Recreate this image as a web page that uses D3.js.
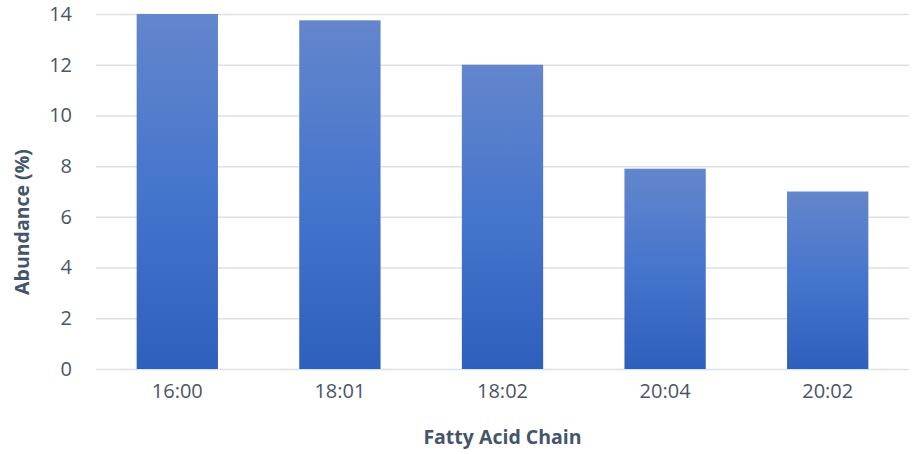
<!DOCTYPE html>
<html>
<head>
<meta charset="utf-8">
<script src="https://cdn.jsdelivr.net/npm/d3@7/dist/d3.min.js"></script>
<style>
  html, body { margin: 0; padding: 0; background: #fff; }
  svg { display: block; }
</style>
</head>
<body>
<svg id="chart" width="912" height="454"></svg>
<script>
// Fatty acid chain abundance
const categories = ["16:00", "18:01", "18:02", "20:04", "20:02"];
const abundance = [14, 13.75, 12, 7.9, 7];
const yTicks = [0, 2, 4, 6, 8, 10, 12, 14];

const W = 912, H = 454;
const margin = { top: 14, right: 3, bottom: 85, left: 96 };
const svg = d3.select("#chart");
const font = "'Open Sans', sans-serif";
const textColor = "#4a5568";

const x = d3.scaleBand()
  .domain(categories)
  .range([margin.left, W - margin.right])
  .paddingInner(0.5)
  .paddingOuter(0.25);

const y = d3.scaleLinear()
  .domain([0, 14])
  .range([H - margin.bottom, margin.top]);

// vertical gradient applied to each bar
const defs = svg.append("defs");
const grad = defs.append("linearGradient")
  .attr("id", "barFill")
  .attr("x1", 0).attr("y1", 0).attr("x2", 0).attr("y2", 1);
grad.append("stop").attr("offset", "0%").attr("stop-color", "#6386cc");
grad.append("stop").attr("offset", "50%").attr("stop-color", "#4675cd");
grad.append("stop").attr("offset", "100%").attr("stop-color", "#2e5fbc");

// gridlines
const yAxis = d3.axisLeft(y)
  .tickValues(yTicks)
  .tickSize(-(W - margin.right - margin.left))
  .tickPadding(24)
  .tickFormat(d3.format("d"));

const gy = svg.append("g")
  .attr("transform", `translate(${margin.left},0)`)
  .call(yAxis);
gy.select(".domain").remove();
gy.selectAll(".tick line")
  .attr("stroke", "#dde1e7")
  .attr("stroke-width", 1.5);
gy.selectAll(".tick text")
  .attr("fill", textColor)
  .style("font-family", font)
  .style("font-size", "20px");

// bars
svg.append("g")
  .selectAll("rect")
  .data(categories)
  .join("rect")
  .attr("x", d => x(d))
  .attr("width", x.bandwidth())
  .attr("y", (d, i) => y(abundance[i]))
  .attr("height", (d, i) => y(0) - y(abundance[i]))
  .attr("fill", "url(#barFill)");

// category axis
const xAxis = d3.axisBottom(x).tickSize(0).tickPadding(15);
const gx = svg.append("g")
  .attr("transform", `translate(0,${y(0)})`)
  .call(xAxis);
gx.select(".domain").remove();
gx.selectAll(".tick text")
  .attr("fill", textColor)
  .style("font-family", font)
  .style("font-size", "20px");

// axis titles
svg.append("text")
  .attr("x", (margin.left + W - margin.right) / 2)
  .attr("y", 444)
  .attr("text-anchor", "middle")
  .attr("fill", "#44546a")
  .style("font-family", font)
  .style("font-weight", "bold")
  .style("font-size", "19.5px")
  .text("Fatty Acid Chain");

svg.append("text")
  .attr("transform", "translate(29,222) rotate(-90)")
  .attr("text-anchor", "middle")
  .attr("fill", "#44546a")
  .style("font-family", font)
  .style("font-weight", "bold")
  .style("font-size", "19.5px")
  .text("Abundance (%)");
</script>
</body>
</html>
